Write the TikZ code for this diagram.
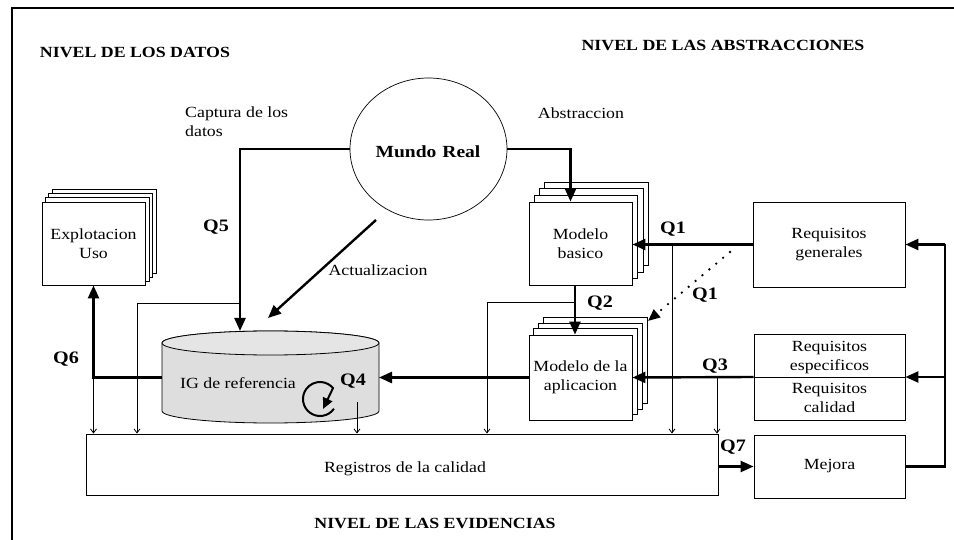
\documentclass[tikz,border=0pt]{standalone}
\usepackage{fontspec}
\setmainfont{Liberation Serif}[FakeStretch=1.15]
\usetikzlibrary{arrows.meta,calc,backgrounds,shapes.geometric}
\newcommand{\stackbehind}[3]{%
 \begin{scope}[on background layer]
  \foreach \i in {3,2,1} {
   \draw[line width=0.9pt, fill=white] ($(#1.south west)+(\i*#2,-\i*#3)$) rectangle ($(#1.north east)+(\i*#2,-\i*#3)$);
  }
 \end{scope}}
\begin{document}
\begin{tikzpicture}[x=1pt,y=-1pt,
  box/.style={draw, line width=0.9pt, fill=white, inner sep=0pt, align=center, font=\fontsize{15.5}{19}\selectfont},
  lbl/.style={inner sep=0pt, align=left, font=\fontsize{15.5}{19}\selectfont},
  ql/.style={inner sep=0pt, font=\fontsize{17.5}{20}\selectfont\bfseries},
  head/.style={inner sep=0pt, font=\fontsize{15.5}{18}\selectfont\bfseries},
  bigarrow/.style={line width=2.4pt, -{Triangle[length=13pt,width=11pt]}},
  smallarrow/.style={line width=0.8pt, -{Straight Barb[length=4pt,width=6pt]}},
  thickline/.style={line width=2.4pt},
  thinline/.style={line width=0.8pt},
]
\useasboundingbox (0,0) rectangle (954,540);
\draw[line width=1.6pt] (12,540) -- (12,8) -- (954,8);

% headings
\node[head] (h1) at (135,52) {NIVEL DE LOS DATOS};
\node[head] (h2) at (723,45) {NIVEL DE LAS ABSTRACCIONES};
\node[head] (h3) at (435,523) {NIVEL DE LAS EVIDENCIAS};

% Mundo real
\node[draw, ellipse, line width=0.7pt, minimum width=157, minimum height=142, inner sep=0pt] (mr) at (428.5,149) {};
\node[inner sep=0pt, font=\fontsize{17}{20}\selectfont\bfseries] (mrt) at (428,152) {Mundo\hspace{0.35em}Real};

% boxes
\node[box, minimum width=103, minimum height=83] (ex) at (93.5,243.5) {Explotacion\\Uso};
\stackbehind{ex}{3.6}{4}
\node[box, minimum width=103, minimum height=83] (mb) at (580.5,243.5) {Modelo\\basico};
\stackbehind{mb}{5.4}{6.5}
\node[box, minimum width=103, minimum height=85] (ma) at (580.5,377.5) {Modelo de la\\aplicacion};
\stackbehind{ma}{5}{5.6}
\node[box, minimum width=152, minimum height=85] (rg) at (829,244.5) {Requisitos\\generales};
\node[box, minimum width=151, minimum height=86] (re) at (829.5,377) {};
\node[lbl, align=center] (ret) at (829.5,358) {Requisitos\\especificos};
\node[lbl, align=center] (rct) at (829.5,397.5) {Requisitos\\calidad};
\draw[thinline] (re.west) -- (re.east);
\node[box, minimum width=632, minimum height=61] (reg) at (402,464.5) {};
\node[lbl] (regt) at (405,469) {Registros de la calidad};
\node[box, minimum width=151, minimum height=63] (mej) at (829.5,466.5) {Mejora};

% cylinder
\draw[line width=0.8pt, fill=black!13] (162,343) -- (162,411) arc[start angle=180, end angle=0, x radius=108.5, y radius=12] -- (379,343) arc[start angle=0, end angle=-180, x radius=108.5, y radius=12] -- cycle;
\draw[line width=0.8pt, fill=black!10] (270.5,343) ellipse[x radius=108.5, y radius=12];
\coordinate (igw) at (162,377.5);
\coordinate (ige) at (379,377.5);
\coordinate (igq5) at (240,331);
\coordinate (igupd) at (268,318);
\coordinate (igq4) at (357,402);
\node[lbl] (igt) at (238,383) {IG de referencia};
\node[ql] (q4) at (353,381) {Q4};
\draw[line width=2pt, -{Triangle[length=11pt,width=10pt]}] (320,399) ++(35:17) arc[start angle=35, end angle=320, radius=17] -- (323,409);

% connectors
\coordinate (fb) at (945,0);
\coordinate (t1) at (672,0);
\coordinate (t3) at (717,0);
\coordinate (tl) at (137,0);
\coordinate (tm) at (487,0);
\coordinate (q5x) at (240,0);
\coordinate (q2x) at (575,0);

\draw[bigarrow] (mr.west) -| (igq5);
\draw[bigarrow] (mr.east) -| ($(mb.north)+(-10,0)$);
\draw[bigarrow] (376,220) -- (igupd);
\draw[bigarrow] (rg.west) -- (rg.west -| mb.east);
\draw[bigarrow] ($(mb.south)+(-5.5,0)$) -- ($(ma.north)+(-5.5,0)$);
\draw[bigarrow] (re.west) -- (ma.east);
\draw[bigarrow] (ma.west) -- (ige);
\draw[bigarrow] (igw) -| (ex.south);
\draw[bigarrow] (mej.west -| reg.east) -- (mej.west);
\draw[thickline] (mej.east) -- (fb |- mej.east) -- (fb |- rg.east);
\draw[bigarrow] (fb |- rg.east) -- (rg.east);
\draw[bigarrow] (fb |- re.east) -- (re.east);
\coordinate (dots) at (730,252);
\coordinate (dote) at (648,321);
\draw[line width=2.6pt, line cap=round, dash pattern=on 0pt off 9pt, -{Triangle[length=12pt,width=10pt]}] (dots) -- (dote);

% thin lines to registros
\draw[smallarrow] (ex.south |- igw) -- (ex.south |- reg.north);
\draw[thinline] (q5x |- 0,303) -- (tl |- 0,303);
\draw[smallarrow] (tl |- 0,303) -- (tl |- reg.north);
\draw[smallarrow] (igq4) -- (igq4 |- reg.north);
\draw[thinline] (q2x |- 0,302) -- (tm |- 0,302);
\draw[smallarrow] (tm |- 0,302) -- (tm |- reg.north);
\draw[smallarrow] (t1 |- rg.west) -- (t1 |- reg.north);
\draw[smallarrow] (t3 |- re.west) -- (t3 |- reg.north);

% labels
\node[lbl, anchor=west] (cap) at (185,122) {Captura de los\\datos};
\node[lbl] (abs) at (581,113) {Abstraccion};
\node[lbl] (act) at (378,270) {Actualizacion};
\node[ql] (q1) at (673,229) {Q1};
\node[ql] (q1b) at (705,295) {Q1};
\node[ql] (q2) at (600,303) {Q2};
\node[ql] (q3) at (715,366) {Q3};
\node[ql] (q5) at (216,227) {Q5};
\node[ql] (q6) at (66,359) {Q6};
\node[ql] (q7) at (733,447) {Q7};
\end{tikzpicture}
\end{document}
